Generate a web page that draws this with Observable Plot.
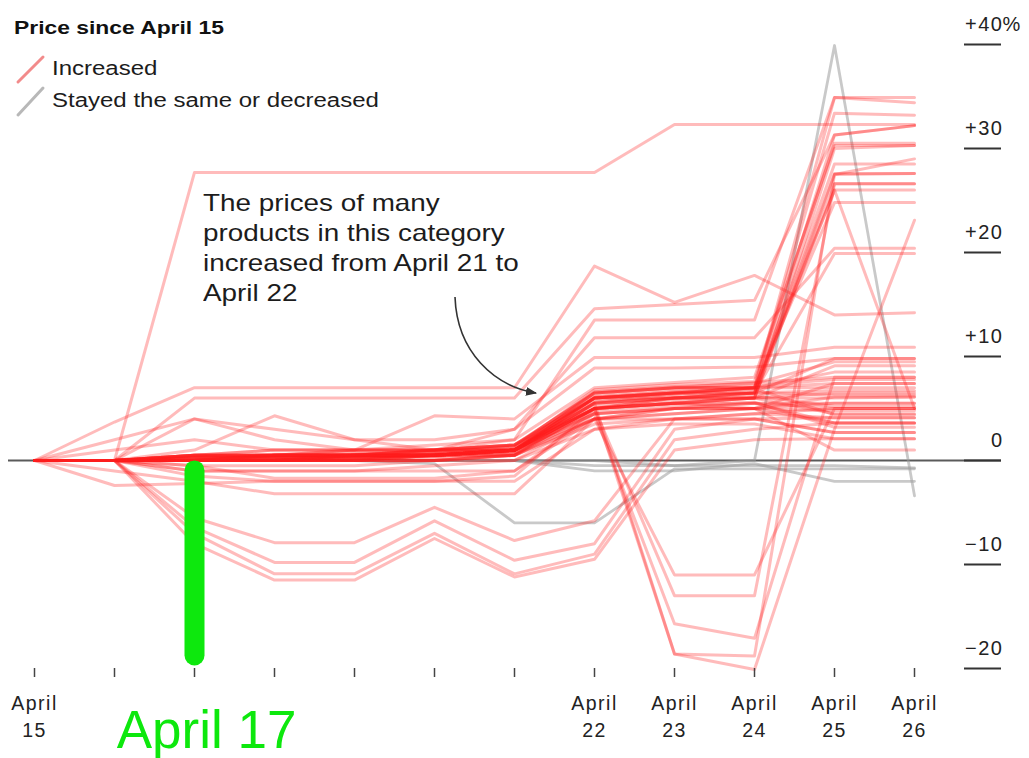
<!DOCTYPE html>
<html>
<head>
<meta charset="utf-8">
<script src="https://cdn.jsdelivr.net/npm/d3@7"></script>
<script src="https://cdn.jsdelivr.net/npm/@observablehq/plot@0.6"></script>
<style>
  html, body { margin: 0; padding: 0; background: #fff; }
  #wrap { position: relative; width: 1029px; height: 758px; overflow: hidden;
          font-family: "Liberation Sans", Arial, Helvetica, sans-serif; }
  #chart { position: absolute; left: 0; top: 0; }
  #decor { position: absolute; left: 0; top: 0; pointer-events: none; }
  .ov { position: absolute; white-space: nowrap; transform-origin: 0 0; color: #1c1c1c; }
  g[aria-label$="tick label"] { letter-spacing: 1.5px; }
</style>
</head>
<body>
<div id="wrap">
  <div id="chart"></div>
  <svg id="decor" width="1029" height="758">
    <defs>
      <marker id="ah" viewBox="0 0 10 10" refX="9" refY="5" markerWidth="7" markerHeight="7" orient="auto">
        <path d="M0,1 L10,5 L0,9 Z" fill="#333"></path>
      </marker>
    </defs>
    <line x1="18" y1="82" x2="43" y2="57" stroke="#f28b8b" stroke-width="3" stroke-linecap="round"></line>
    <line x1="18" y1="115" x2="43" y2="88" stroke="#b8b8b8" stroke-width="3" stroke-linecap="round"></line>
    <path d="M455,297 C457,352 494,386 536,393" fill="none" stroke="#333" stroke-width="1.6" marker-end="url(#ah)"></path>
  </svg>
  <div class="ov" style="left:14px;top:19px;font-size:18.5px;line-height:18.5px;font-weight:bold;transform:scaleX(1.235);color:#111">Price since April 15</div>
  <div class="ov" style="left:52px;top:58px;font-size:20px;line-height:20px;transform:scaleX(1.2)">Increased</div>
  <div class="ov" style="left:52px;top:90px;font-size:20px;line-height:20px;transform:scaleX(1.2)">Stayed the same or decreased</div>
  <div class="ov" style="left:203px;top:187.7px;font-size:24px;line-height:30px;transform:scaleX(1.16)">The prices of many<br>products in this category<br>increased from April 21 to<br>April 22</div>
</div>
<script>
// Days of April shown on the x axis
const days = [15, 16, 17, 18, 19, 20, 21, 22, 23, 24, 25, 26];
const labeledDays = [15, 22, 23, 24, 25, 26];
const yTicks = [-20, -10, 0, 10, 20, 30, 40];

// Price change since April 15 (%), one array per product, values for April 15..26
const increasedSeries = [
  [0, 0, 27.7, 27.7, 27.7, 27.7, 27.7, 27.7, 32.3, 32.3, 32.3, 32.3],
  [0, 3.7, 7, 7, 7, 7, 7, 18.7, 15.2, 17.8, 14, 14.2],
  [0, 0, 6, 6, 6, 6, 6, 14.6, 15, 15.4, 31.3, 32.2],
  [0, 0, 4, 2, 1, 1.5, 2, 13.5, 13.5, 13.5, 34.9, 34.9],
  [0, 0, 1, 4.3, 2, 1, 3, 11.8, 11.8, 11.8, 20.4, 20.4],
  [0, 0, 0, 0.5, 1, 4.3, 4, 9.9, 9.9, 9.9, 10.9, 10.9],
  [0, 2, 4, 3, 2, 2, 3, 8.9, 8.9, 9, 9.8, 9.8],
  [0, 0, 0.5, 0.5, 0.5, 0.5, 1, 6, 6.5, 7, 34.9, 34.4],
  [0, 0, 0.3, 0.5, 0.8, 1, 1.5, 6.5, 7, 7, 33.4, 33.2],
  [0, 0, 0, 0, 0.5, 0.5, 1, 5.5, 6, 6.5, 31.3, 32.2],
  [0, 0, 0.5, 1, 1, 1, 2, 7, 7.5, 8, 30.3, 30.3],
  [0, 0, 0, 0.5, 0.5, 1, 1, 5, 5.5, 6, 27.5, 29],
  [0, 0, 0.2, 0.2, 0.5, 0.5, 0.8, 6, 6.5, 6.5, 27.6, 27.6],
  [0, 0, 0, 0, 0, 0.5, 0.5, 5.5, 6, 6, 26.6, 26.6],
  [0, 0, 0.5, 0.5, 1, 1, 1.5, 6, 6.5, 7, 26, 26],
  [0, 0, 0, 0.5, 0.5, 0.5, 1, 6.5, 7, 7, 24.8, 24.8],
  [0, 0, 0, 0, 0.5, 1, 1, 5, 6, 6, 30, 30.3],
  [0, 0, 0.3, 0.3, 0.3, 0.5, 1, 6, 6.5, 6.5, 19.9, 19.9],
  [0, 0, 0, 0, 0.3, 0.5, 1, 6, 6, 6.5, 26, 5],
  [0, 0, 0.4, 0.4, 0.6, 0.8, 1.3, 6.8, 7.3, 7.6, 30.5, 30.5],
  [0, 0, 0, 0.2, 0.4, 0.4, 0.9, 5.6, 6.4, 6.8, 28.5, 28.5],
  [0, 0, 0, 0, 0, 0.5, 1, 5, 6, 6, 6, 6.1],
  [0, 0, 0.5, 0.5, 0.5, 0.5, 1, 5.5, 6, 6.5, 6.7, 6.7],
  [0, 0, 0, 0.3, 0.3, 0.5, 0.8, 4.5, 5, 5, 5.5, 5.5],
  [0, 0, 0, 0, 0, 0, 0.5, 4, 4.5, 5, 4.8, 4.8],
  [0, 0, 0.5, 1, 1, 1, 1.5, 6, 6.5, 7, 7.4, 7.4],
  [0, 0, 0, 0, 0, 0, 0.5, 4, 4, 4.5, 4.1, 4.1],
  [0, 0, 0.3, 0.3, 0.5, 0.5, 1, 5, 5.5, 5.5, 3.6, 3.6],
  [0, 0, 0, 0, 0.2, 0.2, 0.5, 3.5, 4, 4, 2.7, 2.7],
  [0, 0, 0, 0, 0, 0, 0, 3, 3.5, 3.5, 2.1, 2.1],
  [0, 0, 0, 0, 0, 0.5, 0.5, 5, 5.5, 6, 9.1, 9.1],
  [0, 0, 0, 0.5, 0.5, 0.5, 1, 5.5, 6, 6.5, 9.8, 9.8],
  [0, 0, -1, -1, -1, -0.5, 0, 4, 5, 5, 1, 1],
  [0, 0, 0.5, 0.5, 0.5, 1, 1.5, 6.5, 7, 7.5, 8, 8],
  [0, 0, -0.5, -0.5, -0.5, 0, 0.5, 4.5, 5, 5.5, 5.5, 5.5],
  [0, 0, 0, 0, 0, 0, 0.5, 5, 5.5, 5, 6.1, 6.1],
  [0, 0, 0.2, 0.5, 0.5, 0.8, 1, 6, 6.5, 7, 7, 7],
  [0, 0, 0, 0, 0.5, 0.5, 1, 6.5, 7, 7, 8.5, 8.5],
  [0, 0, 0, 0.3, 0.5, 0.5, 1, 5.8, 6.2, 6.5, 6.3, 6.3],
  [0, 0, 0.2, 0.2, 0.4, 0.6, 1.2, 6.2, 6.8, 7.2, 7.8, 7.8],
  [0, 0, 0, 0, 0.3, 0.6, 1, 5.2, 5.8, 6.2, 5.2, 5.2],
  [0, 0, 0.1, 0.3, 0.3, 0.7, 1.1, 6.1, 6.6, 6.9, 4.4, 4.4],
  [0, 0, 0, 0, 0.2, 0.4, 0.7, 4.8, 5.3, 5.6, 3.2, 3.2],
  [0, 0, 0.3, 0.6, 0.6, 0.9, 1.4, 6.6, 7.1, 7.4, 9.5, 9.5],
  [0, -1, -2, -3.2, -3.2, -3.2, -3.2, 4, 5, 5.5, 5, 5],
  [0, 0, -1.5, -2, -2, -2, -1.5, 5, 5.5, 6, 6.5, 6.5],
  [0, 0, -1, -1, -1, -1, -1, 4.5, 5, 5, 3.6, 3.6],
  [0, -2.4, -2.2, -2, -2, -2, -2, 3, 4, 4, 2.7, 2.7],
  [0, 0, -0.5, -1.7, -1.7, -1.7, -1, 4, 4.5, 5, 7.4, 7.4],
  [0, 1, 2, 1, 1, 1, 1.5, 5, 5.5, 6, 4.5, 4.5],
  [0, 0, -5.5, -7.9, -7.9, -4.5, -7.7, -5.8, 4, 4.5, 5, 5],
  [0, 0, -6.4, -9.8, -9.8, -5.8, -9.6, -8, 3, 4, 4.1, 4.1],
  [0, 0, -7, -10.9, -10.9, -7, -10.9, -9, 2, 3, 3.6, 3.6],
  [0, 0, -8, -11.5, -11.5, -7.5, -11.2, -9.5, 1, 2, 2.1, 2.1],
  [0, 0, 0.5, 0.5, 0.5, 1, 1, 4, -11, -11, 5, 5],
  [0, 0, 0, 0.5, 0.5, 0.5, 1, 5, -13, -13, 26.6, 26.6],
  [0, 0, 0, 0, 0, 0.5, 1, 4.5, -15.7, -17.1, 8, 8],
  [0, 0, 0.5, 0.5, 0.5, 0.5, 1, 5, -18.6, -18.8, 27.5, 27.6],
  [0, 0, 0, 0, 0.5, 0.5, 1, 5.5, -18.6, -20.1, 3, 23.1]
];
const sameOrDecreasedSeries = [
  [0, 0, 0, 0, 0, 0, 0, -0.5, -0.5, 0, 39.9, -3.4],
  [0, 0, 0, 0, 0, -0.3, -6, -6, -0.8, -0.8, -0.8, -0.8],
  [0, 0, 0, 0, 0, 0, 0, -1, -1, -0.3, -2, -2],
  [0, 0, 0, 0, 0, 0, 0, 0, -0.5, -0.5, -0.5, -0.7]
];

// Highlight annotation
const highlight = [{day: 17, from: -1, to: -18.8, label: "April 17"}];

function toRows(series, group) {
  const rows = [];
  series.forEach((vals, i) => vals.forEach((v, j) => rows.push({id: group + i, day: days[j], value: v})));
  return rows;
}
const redRows = toRows(increasedSeries, "inc");
const grayRows = toRows(sameOrDecreasedSeries, "dec");

const fmtY = d => d === 0 ? "0" : d > 0 ? "+" + d : "\u2212" + Math.abs(d);

const chart = Plot.plot({
  width: 1029,
  height: 758,
  marginLeft: 34,
  marginRight: 115,
  marginTop: 44,
  marginBottom: 90,
  x: {domain: [15, 26], axis: null, label: null},
  y: {domain: [-20, 40], axis: null, label: null},
  style: {fontFamily: "Liberation Sans, Arial, Helvetica, sans-serif", fontSize: "20px", color: "#222", background: "transparent", overflow: "visible"},
  marks: [
    Plot.ruleY([0], {stroke: "#5a5a5a", strokeWidth: 2, insetLeft: -26, insetRight: -87}),
    Plot.line(grayRows, {x: "day", y: "value", z: "id", stroke: "#9c9c9c", strokeOpacity: 0.55, strokeWidth: 2.8}),
    Plot.line(redRows, {x: "day", y: "value", z: "id", stroke: "#ff1e1e", strokeOpacity: 0.3, strokeWidth: 3}),
    Plot.ruleX(highlight, {x: "day", y1: "from", y2: "to", stroke: "#0de80d", strokeWidth: 20, strokeLinecap: "round"}),
    Plot.text(highlight, {x: "day", text: "label", frameAnchor: "bottom", dy: 63, dx: 12, fontSize: 53, fill: "#0de80d", lineAnchor: "middle"}),
    Plot.axisX({ticks: days, tickSize: 9, tickPadding: 14, label: null, stroke: "#444", strokeWidth: 1.5, fill: "#222",
      fontSize: 19.5, lineHeight: 1.35,
      tickFormat: d => labeledDays.includes(d) ? "April\n" + d : ""}),
    Plot.ruleY(yTicks, {stroke: "#333", strokeWidth: 2, insetLeft: 930, insetRight: -87}),
    Plot.axisY({anchor: "right", ticks: yTicks, tickSize: 0, tickPadding: 0, dx: 89, dy: -20, textAnchor: "end",
      label: null, fill: "#222", fontSize: 20, tickFormat: fmtY}),
    Plot.axisY({anchor: "right", ticks: [40], tickSize: 0, tickPadding: 0, dx: 88, dy: -20, textAnchor: "start",
      label: null, fill: "#222", fontSize: 20, tickFormat: () => "%"})
  ]
});
document.getElementById("chart").appendChild(chart);
</script>
</body>
</html>
